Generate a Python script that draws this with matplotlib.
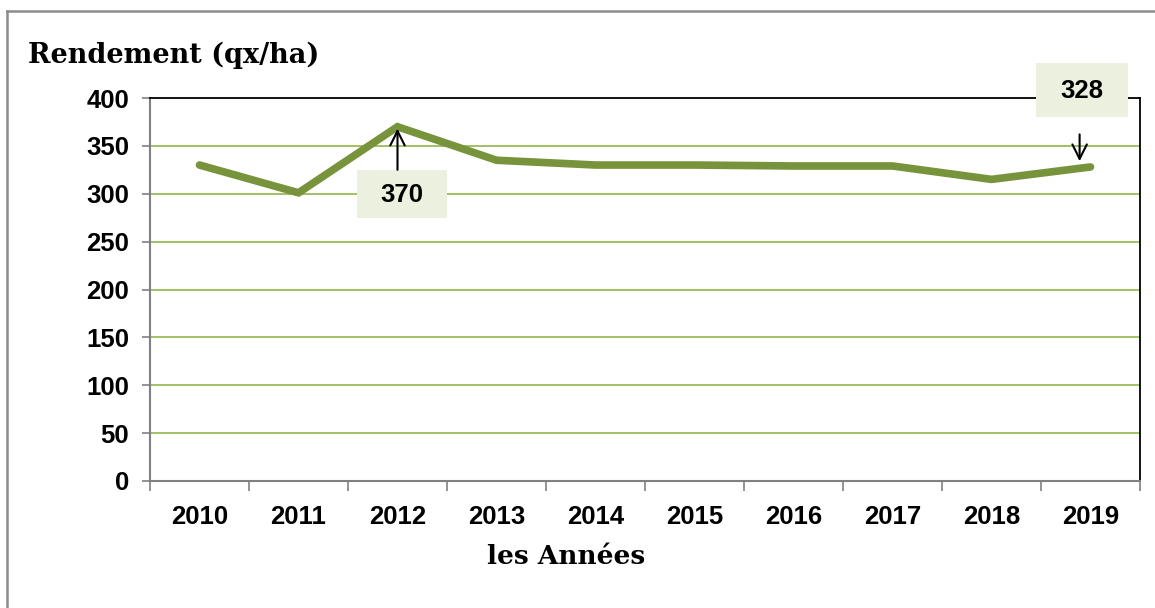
import numpy as np
import matplotlib
matplotlib.use("Agg")
import matplotlib.pyplot as plt
from matplotlib.lines import Line2D
from matplotlib.patches import Rectangle

# Données du graphique
annees = ['2010', '2011', '2012', '2013', '2014', '2015', '2016', '2017', '2018', '2019']
rendement = [330, 301, 370, 335, 330, 330, 329, 329, 315, 328]
yticks = [0, 50, 100, 150, 200, 250, 300, 350, 400]

vert_ligne = '#77933C'
vert_grille = '#9BBB59'
fond_boite = '#EBF1DE'

fig = plt.figure(figsize=(11.55, 6.08), dpi=100)
ax = fig.add_axes([150 / 1155, 1 - 481 / 608, 990 / 1155, 383 / 608])

x = np.arange(len(annees))
ax.plot(x, rendement, color=vert_ligne, linewidth=5.5, solid_capstyle='round',
        solid_joinstyle='miter', zorder=3)

ax.set_xlim(-0.5, len(annees) - 0.5)
ax.set_ylim(0, 400)
ax.set_yticks(yticks)
ax.set_yticklabels([str(v) for v in yticks], fontsize=18.5, fontweight='bold',
                   family='Liberation Sans')
ax.set_xticks(x)
ax.set_xticklabels(annees, fontsize=18.5, fontweight='bold', family='Liberation Sans')
ax.tick_params(axis='x', length=0, pad=17)
ax.set_xticks(np.arange(-0.5, len(annees)), minor=True)
ax.tick_params(axis='x', which='minor', length=7, color='#808080', width=1.2)
ax.tick_params(axis='y', length=6, color='#808080', width=1.2, pad=9)

for v in yticks[1:-1]:
    ax.axhline(v, color=vert_grille, linewidth=1.3, zorder=1)

ax.spines['left'].set_color('#808080')
ax.spines['bottom'].set_color('#808080')
ax.spines['left'].set_linewidth(1.5)
ax.spines['bottom'].set_linewidth(1.5)
ax.spines['top'].set_color('black')
ax.spines['right'].set_color('black')
ax.spines['top'].set_linewidth(1.3)
ax.spines['right'].set_linewidth(1.3)

# Étiquette 370
ax.add_patch(Rectangle((1.59, 275), 0.91, 50, facecolor=fond_boite, edgecolor='none',
                       zorder=4, clip_on=False))
ax.text(2.045, 299, '370', fontsize=18.5, fontweight='bold', family='Liberation Sans',
        ha='center', va='center', zorder=5)
ax.annotate('', xy=(2, 368), xytext=(2, 325),
            arrowprops=dict(arrowstyle='->', color='black', lw=1.5, shrinkA=0, shrinkB=0,
                            mutation_scale=26), zorder=5)

# Étiquette 328
ax.add_patch(Rectangle((8.45, 380), 0.93, 57, facecolor=fond_boite, edgecolor='none',
                       zorder=4, clip_on=False))
ax.text(8.915, 407, '328', fontsize=18.5, fontweight='bold', family='Liberation Sans',
        ha='center', va='center', zorder=5)
ax.annotate('', xy=(8.89, 334), xytext=(8.89, 362), annotation_clip=False,
            arrowprops=dict(arrowstyle='->', color='black', lw=1.5, shrinkA=0, shrinkB=0,
                            mutation_scale=26), zorder=5)

fig.text(28 / 1155, 1 - 55 / 608, 'Rendement (qx/ha)', fontsize=19.5, fontweight='bold',
         family='DejaVu Serif', ha='left', va='center')
fig.text(566 / 1155, 1 - 557 / 608, 'les Années', fontsize=19, fontweight='bold',
         family='DejaVu Serif', ha='center', va='center')

# Cadre extérieur
fig.add_artist(Line2D([7 / 1155, 7 / 1155], [0, 1 - 11 / 608], transform=fig.transFigure,
                      color='#8c8c8c', linewidth=1.8))
fig.add_artist(Line2D([7 / 1155, 1], [1 - 11 / 608, 1 - 11 / 608], transform=fig.transFigure,
                      color='#8c8c8c', linewidth=1.8))

fig.savefig('out.png', dpi=100)
